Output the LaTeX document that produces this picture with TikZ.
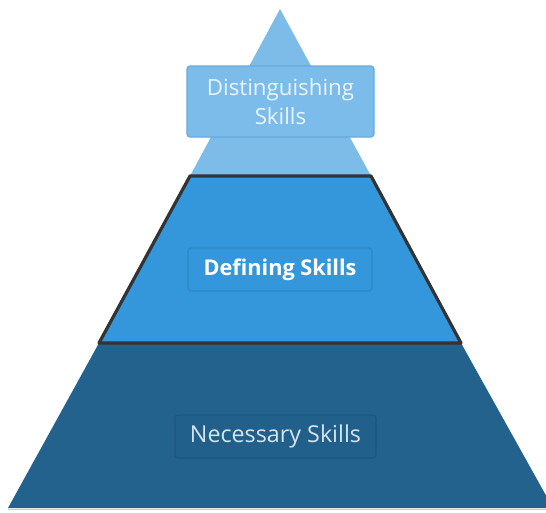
\documentclass[tikz,border=0pt]{standalone}
\usepackage{fontspec}
\setmainfont{Open Sans}
\definecolor{topc}{HTML}{7DBBE8}
\definecolor{midc}{HTML}{3597DB}
\definecolor{botc}{HTML}{22628C}
\definecolor{topbox}{HTML}{7CBCEA}
\definecolor{topboxb}{HTML}{65ABDD}
\definecolor{midboxb}{HTML}{2C88C8}
\definecolor{botbox}{HTML}{21608A}
\definecolor{botboxb}{HTML}{1C5680}
\definecolor{toptext}{HTML}{EAF4FC}
\definecolor{bottext}{HTML}{D5E4EF}
\definecolor{edge}{HTML}{333333}
\tikzset{
  label box/.style={rounded corners=3pt, inner sep=0pt, align=center, line width=1.2pt},
}
\begin{document}
\begin{tikzpicture}[x=1pt,y=1pt]
\useasboundingbox (0,0) rectangle (546,-512);
\begin{scope}
\clip (0,0) rectangle (546,-512);
% bottom layer
\fill[botc] (99,-343) -- (461,-343) -- (553,-508) -- (8,-508) -- cycle;
\draw[gray!40, line width=1pt] (8,-509) -- (546,-509);
% top layer
\fill[topc] (280,-9) -- (371,-176) -- (190,-176) -- cycle;
% middle layer
\fill[midc] (190,-176) -- (371,-176) -- (461,-343) -- (99,-343) -- cycle;
\draw[edge, line width=3.2pt, line join=round] (190,-176) -- (371,-176) -- (461,-343) -- (99,-343) -- cycle;
\end{scope}
\node[label box, draw=topboxb, fill=topbox, minimum width=187pt, minimum height=71pt, text=toptext,
  font=\fontsize{22.3}{29}\selectfont] (dist) at (280.5,-101.5) {Distinguishing\\Skills};
\node[label box, draw=midboxb, fill=midc, minimum width=184pt, minimum height=43pt, text=white,
  font=\fontsize{21.7}{26}\selectfont\bfseries] (def) at (280,-269.5) {Defining Skills};
\node[label box, draw=botboxb, fill=botbox, minimum width=201pt, minimum height=43pt, text=bottext,
  font=\fontsize{23.3}{26}\selectfont] (nec) at (275.5,-436.5) {Necessary Skills};
\end{tikzpicture}
\end{document}
